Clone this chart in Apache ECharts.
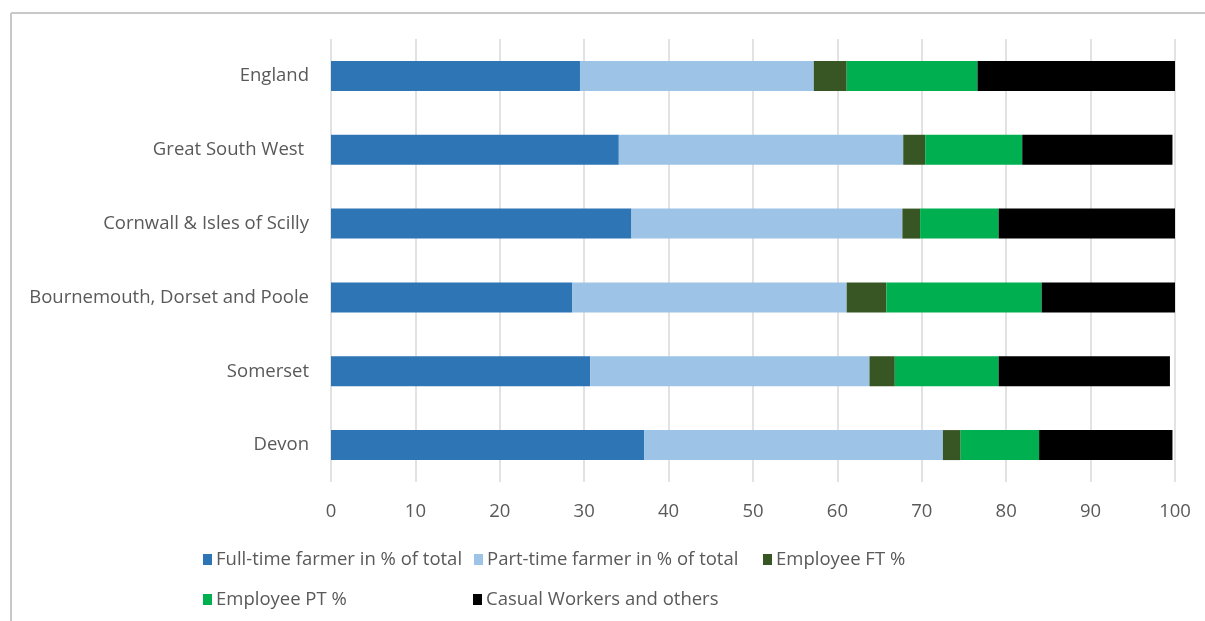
<!DOCTYPE html>
<html>
<head>
<meta charset="utf-8">
<script src="https://cdn.jsdelivr.net/npm/echarts@6/dist/echarts.min.js"></script>
<style>
html,body{margin:0;padding:0;background:#fff;}
#chart{width:1205px;height:621px;}
</style>
</head>
<body>
<div id="chart"></div>
<script>
// Categories (bottom to top as drawn by ECharts)
var categories = ['Devon', 'Somerset', 'Bournemouth, Dorset and Poole', 'Cornwall & Isles of Scilly', 'Great South West ', 'England'];
var seriesNames = ['Full-time farmer in % of total', 'Part-time farmer in % of total', 'Employee FT %', 'Employee PT %', 'Casual Workers and others'];
var fullTime   = [37.1, 30.7, 28.6, 35.6, 34.1, 29.5];
var partTime   = [35.4, 33.1, 32.5, 32.1, 33.7, 27.7];
var employeeFT = [2.1, 3.0, 4.7, 2.1, 2.6, 3.9];
var employeePT = [9.3, 12.3, 18.4, 9.3, 11.5, 15.5];
var casual     = [15.8, 20.3, 15.8, 20.9, 17.8, 23.4];
var xTicks = [0, 10, 20, 30, 40, 50, 60, 70, 80, 90, 100];

var colors = ['#2e75b6', '#9dc3e6', '#375623', '#00b050', '#000000'];
var values = [fullTime, partTime, employeeFT, employeePT, casual];
var font = 'Open Sans, Noto Sans, sans-serif';
var fs = 18.5;

var series = seriesNames.map(function (n, i) {
  return {
    name: n,
    type: 'bar',
    stack: 'total',
    barWidth: 30,
    data: values[i],
    itemStyle: { color: colors[i] },
    emphasis: { disabled: true }
  };
});

var legendPos = [
  { left: 198, top: 545 },
  { left: 469, top: 545 },
  { left: 758, top: 545 },
  { left: 198, top: 585 },
  { left: 468, top: 585 }
];
var legends = seriesNames.map(function (n, i) {
  return {
    data: [n],
    left: legendPos[i].left,
    top: legendPos[i].top,
    icon: 'rect',
    itemWidth: 9,
    itemHeight: 11,
    itemGap: 4,
    selectedMode: false,
    textStyle: { color: '#595959', fontSize: fs, fontFamily: font, padding: [0, 0, 0, -1] }
  };
});

var chart = echarts.init(document.getElementById('chart'), null, { renderer: 'canvas' });
chart.setOption({
  animation: false,
  backgroundColor: '#ffffff',
  grid: { left: 331, right: 30, top: 39, bottom: 139, containLabel: false },
  xAxis: {
    type: 'value',
    min: 0,
    max: 100,
    interval: 10,
    axisLine: { show: false },
    axisTick: { show: false },
    splitLine: { show: true, lineStyle: { color: '#d9d9d9', width: 1.5 } },
    axisLabel: {
      color: '#595959', fontSize: fs, fontFamily: font, margin: 20,
      formatter: function (v) { return xTicks.indexOf(v) >= 0 ? String(v) : ''; }
    }
  },
  yAxis: {
    type: 'category',
    data: categories,
    axisLine: { show: false },
    axisTick: { show: false },
    axisLabel: { color: '#595959', fontSize: fs, fontFamily: font, margin: 22 }
  },
  legend: legends,
  series: series,
  graphic: [
    { type: 'line', shape: { x1: 11, y1: 13, x2: 1205, y2: 13 }, style: { stroke: '#c8c8c8', lineWidth: 2 } },
    { type: 'line', shape: { x1: 11, y1: 13, x2: 11, y2: 621 }, style: { stroke: '#c8c8c8', lineWidth: 2 } }
  ]
});
</script>
</body>
</html>
